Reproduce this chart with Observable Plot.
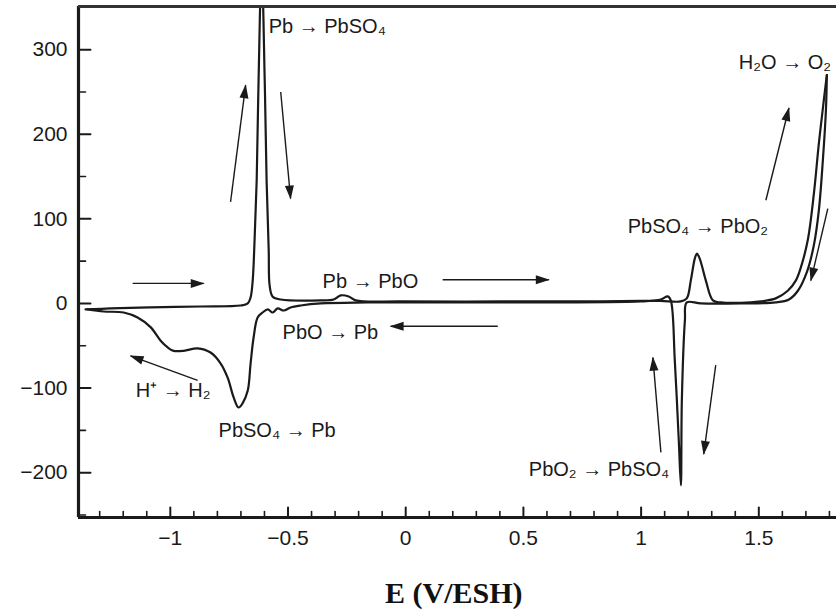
<!DOCTYPE html>
<html><head><meta charset="utf-8">
<script src="https://cdn.jsdelivr.net/npm/d3@7"></script>
<script src="https://cdn.jsdelivr.net/npm/@observablehq/plot@0.6"></script>
<style>
body{margin:0;background:#fff;}
#wrap{position:relative;width:836px;height:612px;overflow:hidden;}
#title{position:absolute;left:385px;top:578px;white-space:nowrap;font:bold 30px "Liberation Serif","Times New Roman",serif;line-height:30px;color:#111;}
</style></head><body>
<div id="wrap"><div id="chart"></div><div id="title">E (V/ESH)</div></div>
<script>
// ---- data (E in V/ESH, I in arbitrary units) ----
const anodicE = [-1.360,-1.254,-1.084,-0.871,-0.701,-0.671,-0.659,-0.650,-0.642,-0.633,-0.625,-0.612,-0.599,-0.591,-0.582,-0.578,-0.565,-0.531,-0.361,-0.306,-0.276,-0.242,-0.212,-0.021,0.404,0.829,0.999,1.084,1.169,1.194,1.211,1.228,1.237,1.249,1.275,1.305,1.339,1.466,1.509,1.572,1.623,1.657,1.679,1.708,1.734,1.755,1.776,1.789];
const anodicI = [-7.1,-5.9,-4.7,-3.6,-2.4,0,7,27,75,146,264,400,264,146,63,21,8,4.7,3.6,4.7,9.5,8.3,3.6,2.4,2.4,2.4,3.0,3.0,2.4,6,27,53,59,53,27,3.6,1.2,1.2,2.4,6,15,27,43,75,130,189,240,270];
const cathodicE = [1.789,1.785,1.772,1.755,1.734,1.704,1.666,1.628,1.572,1.424,1.254,1.194,1.186,1.173,1.169,1.160,1.143,1.126,1.113,1.084,0.999,-0.161,-0.361,-0.446,-0.489,-0.518,-0.544,-0.565,-0.586,-0.608,-0.629,-0.646,-0.659,-0.671,-0.693,-0.710,-0.731,-0.756,-0.786,-0.829,-0.884,-0.943,-0.986,-1.011,-1.041,-1.084,-1.139,-1.198,-1.283,-1.351];
const cathodicI = [270,228,169,110,69,37,15,4.7,1.2,0,0,1.2,-20,-115,-215,-162,-67,3.6,8.3,4.7,2.4,1.2,0,-2.4,-4.7,-8.3,-5.9,-10.7,-7,-10.7,-16.6,-40,-71,-103,-118,-123,-111,-88,-71,-58,-53,-56,-56,-52,-44,-28,-16.6,-10.7,-9.5,-7];

const labelText = ["Pb → PbSO₄","Pb → PbO","PbO → Pb","H⁺ → H₂","PbSO₄ → Pb","PbSO₄ → PbO₂","H₂O → O₂","PbO₂ → PbSO₄"];
const labelE = [-0.582,-0.353,-0.523,-1.147,-0.795,0.943,1.415,0.523];
const labelI = [327,26,-34,-103,-150,91,285,-196];

const arrowE1 = [-1.160,-0.744,-0.531,0.157,0.391,-0.884,1.084,1.317,1.530,1.793];
const arrowI1 = [23.7,120,250,28,-27,-91,-176,-73,122,112];
const arrowE2 = [-0.858,-0.680,-0.489,0.608,-0.064,-1.169,1.050,1.266,1.628,1.721];
const arrowI2 = [23.7,258,124,28,-27,-62,-64,-178,231,27];

const xMajor = [-1,-0.5,0,0.5,1,1.5];
const xMajorLabels = ["−1","−0.5","0","0.5","1","1.5"];
const xMinor = [-1.3,-1.2,-1.1,-0.9,-0.8,-0.7,-0.6,-0.4,-0.3,-0.2,-0.1,0.1,0.2,0.3,0.4,0.6,0.7,0.8,0.9,1.1,1.2,1.3,1.4,1.6,1.7,1.8];
const yMajor = [-200,-100,0,100,200,300];
const yMajorLabels = ["−200","−100","0","100","200","300"];
const yMinor = [-250,-150,-50,50,150,250];

const xDomain = [-1.39, 1.83];
const yDomain = [-253, 351];

// ---- build tables ----
const curve = [
  ...anodicE.map((e,i)=>({E:e, I:anodicI[i], sweep:"anodic"})),
  ...cathodicE.map((e,i)=>({E:e, I:cathodicI[i], sweep:"cathodic"}))
];
const labels = labelText.map((t,i)=>({t, E:labelE[i], I:labelI[i]}));
const arrows = arrowE1.map((e,i)=>({x1:e, y1:arrowI1[i], x2:arrowE2[i], y2:arrowI2[i]}));
const xLab = new Map(xMajor.map((v,i)=>[v, xMajorLabels[i]]));
const yLab = new Map(yMajor.map((v,i)=>[v, yMajorLabels[i]]));

const tickShape = {draw(context, l){ context.moveTo(0,0); context.lineTo(0,-l); }};

function filledArrow(color) {
  const ns = "http://www.w3.org/2000/svg";
  const m = document.createElementNS(ns, "marker");
  m.setAttribute("viewBox", "-14 -6 15 12");
  m.setAttribute("markerWidth", "15");
  m.setAttribute("markerHeight", "12");
  m.setAttribute("markerUnits", "userSpaceOnUse");
  m.setAttribute("orient", "auto");
  m.setAttribute("refX", "0");
  m.setAttribute("refY", "0");
  const p = document.createElementNS(ns, "path");
  p.setAttribute("d", "M-13,-4.5L1,0L-13,4.5Z");
  p.setAttribute("fill", color || "#111");
  p.setAttribute("stroke", "none");
  m.appendChild(p);
  return m;
}

const ink = "#1a1a1a";
const chart = Plot.plot({
  width: 836, height: 556,
  marginLeft: 78, marginRight: 0, marginTop: 6, marginBottom: 39,
  style: {fontFamily: "'Liberation Sans', Arial, sans-serif", fontSize: "21px", color: ink, background: "#fff"},
  x: {domain: xDomain, ticks: xMajor, tickSize: 0, tickPadding: 13, tickFormat: d => xLab.get(d), label: null},
  y: {domain: yDomain, ticks: yMajor, tickSize: 0, tickPadding: 11, tickFormat: d => yLab.get(d), label: null},
  marks: [
    Plot.line(curve, {x: "E", y: "I", z: "sweep", stroke: ink, strokeWidth: 2.2, curve: "catmull-rom", clip: true}),
    Plot.link(arrows, {x1: "x1", y1: "y1", x2: "x2", y2: "y2", stroke: ink, strokeWidth: 1.4, markerEnd: filledArrow}),
    Plot.text(labels, {x: "E", y: "I", text: "t", textAnchor: "start", fontSize: 20, fill: ink}),
    Plot.vector(yMajor, {x: () => xDomain[0], y: d => d, length: 12, rotate: 90, anchor: "start", shape: tickShape, stroke: ink, strokeWidth: 2}),
    Plot.vector(yMinor, {x: () => xDomain[0], y: d => d, length: 7, rotate: 90, anchor: "start", shape: tickShape, stroke: ink, strokeWidth: 1.6}),
    Plot.vector(xMajor, {x: d => d, y: () => yDomain[0], length: 10, rotate: 0, anchor: "start", shape: tickShape, stroke: ink, strokeWidth: 2}),
    Plot.vector(xMinor, {x: d => d, y: () => yDomain[0], length: 6, rotate: 0, anchor: "start", shape: tickShape, stroke: ink, strokeWidth: 1.6}),
    Plot.ruleX([xDomain[0]], {stroke: ink, strokeWidth: 3.2}),
    Plot.ruleY([yDomain[0]], {stroke: ink, strokeWidth: 3.2}),
    Plot.ruleY([yDomain[1]], {stroke: "#333", strokeWidth: 3.2})
  ]
});
document.getElementById("chart").appendChild(chart);
</script>
</body></html>
